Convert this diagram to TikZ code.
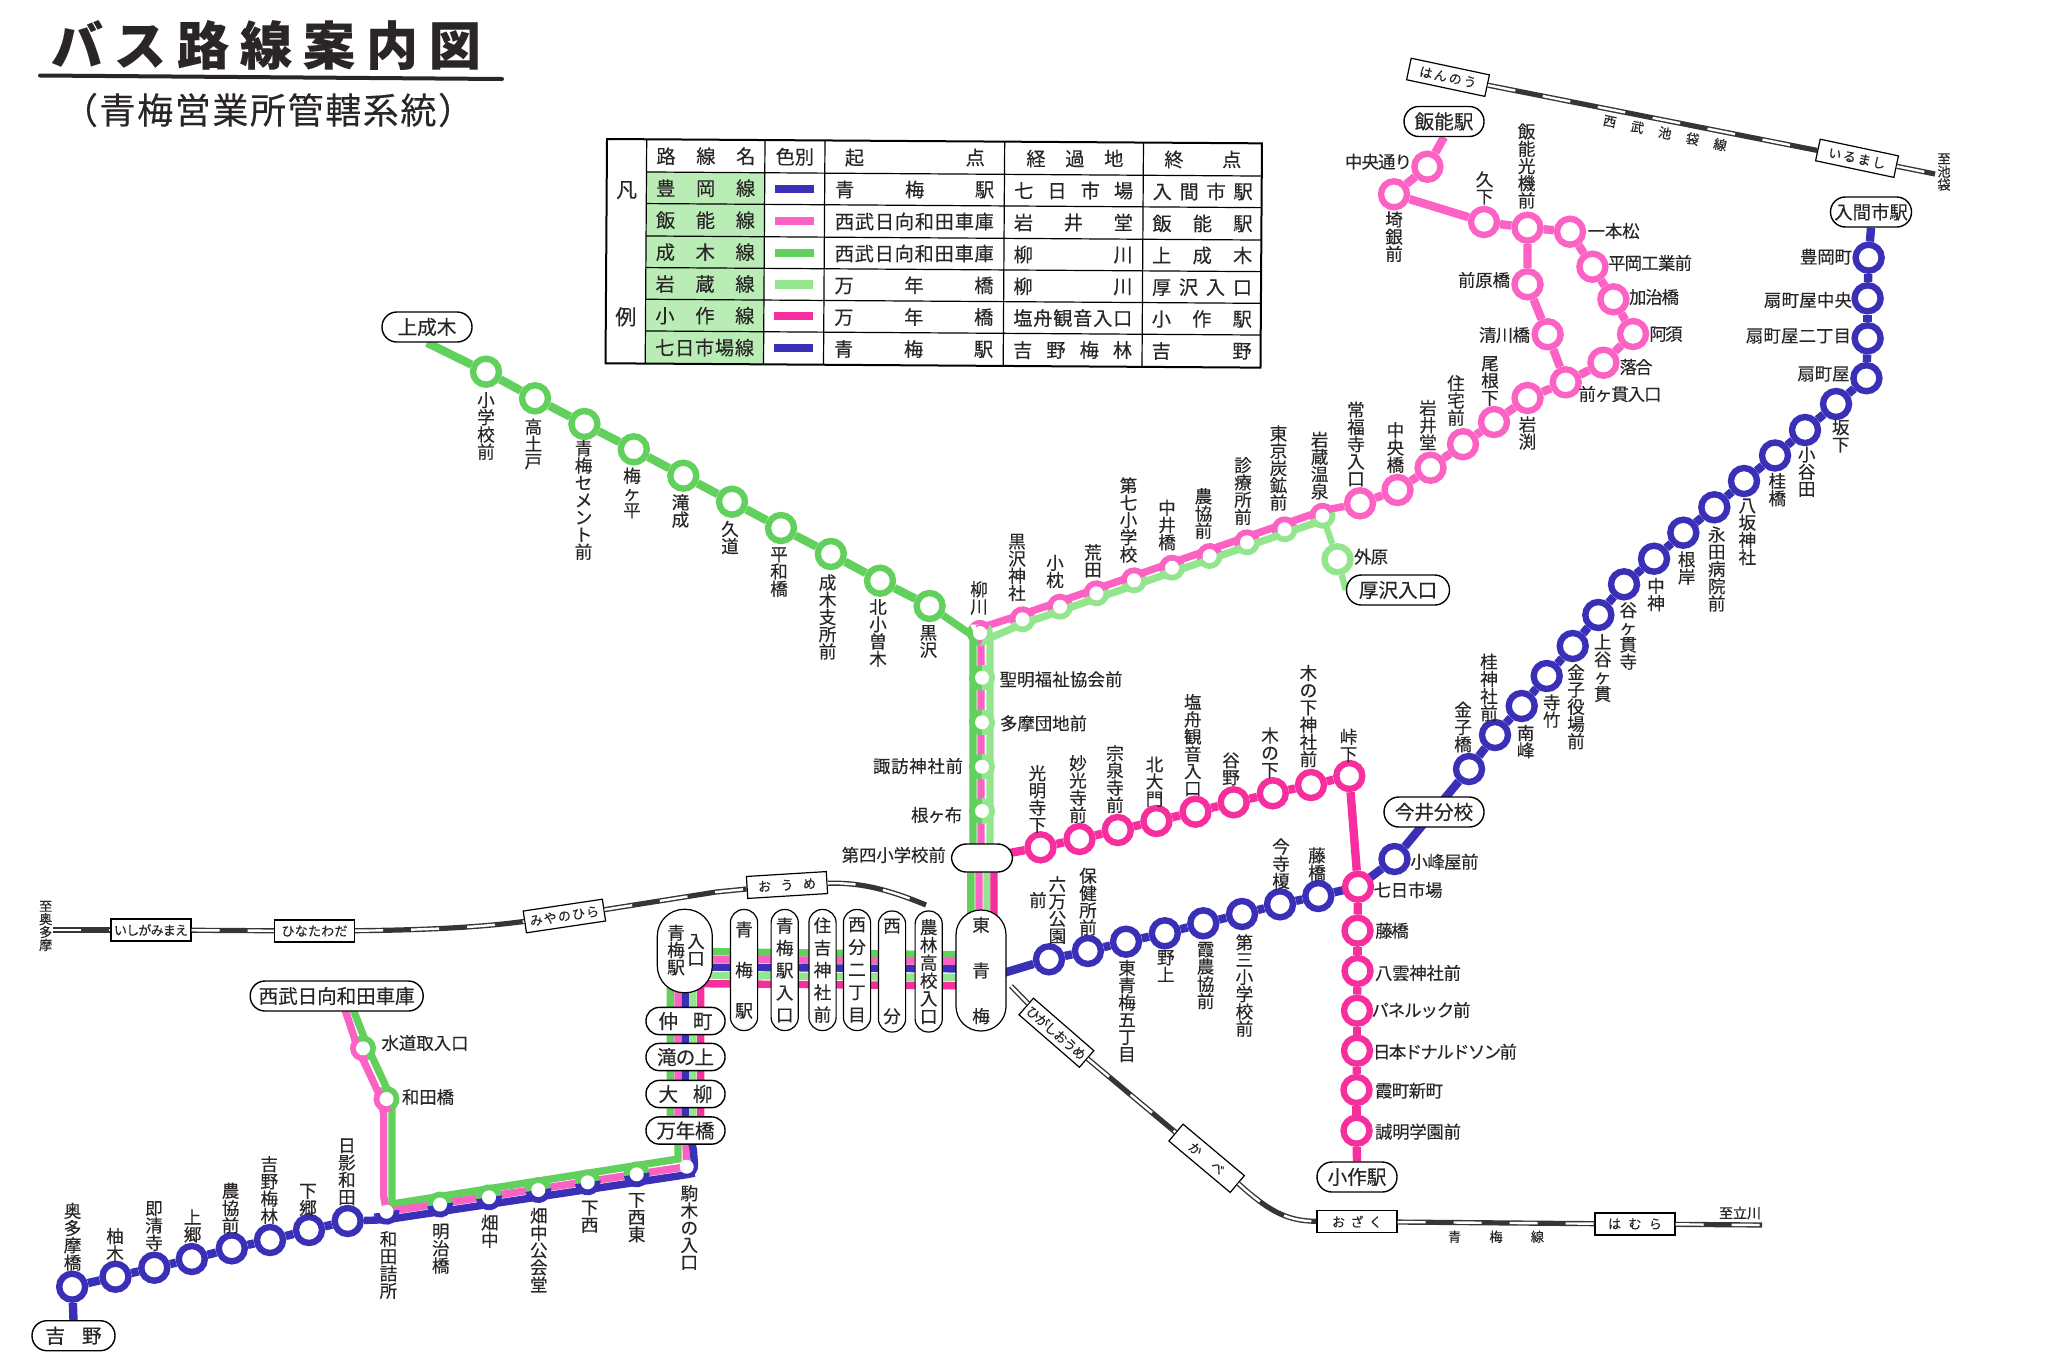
\documentclass[tikz,border=0pt]{standalone}
\usepackage{fontspec}
\setmainfont{Noto Sans CJK JP}[FakeBold=0.25]
\usetikzlibrary{backgrounds}

\definecolor{lineblue}{HTML}{3A30B8}
\definecolor{linehanno}{HTML}{FB62C4}
\definecolor{linenari}{HTML}{62D05C}
\definecolor{lineiwa}{HTML}{94E68E}
\definecolor{linekosa}{HTML}{F62E9E}
\definecolor{legfill}{HTML}{BAEDB6}
\definecolor{raildark}{HTML}{383436}
\definecolor{inkdark}{HTML}{2A2628}

% vertical and spread text
\def\vtloop#1#2\vtend{\hbox to 1em{\hss#1\hss}\ifx\relax#2\relax\else\vtloop#2\vtend\fi}
\newcommand\vt[1]{\vbox{\baselineskip=0.98em\lineskiplimit=-\maxdimen\expandafter\vtloop#1\vtend}}
\def\vsloop#1#2\vsend{\hbox to 1em{\hss#1\hss}\ifx\relax#2\relax\else\vfil\vsloop#2\vsend\fi}
\newcommand\vsp[2]{\vbox to #1{\lineskiplimit=-\maxdimen\baselineskip=0pt\expandafter\vsloop#2\vsend}}
\def\hsloop#1#2\hsend{#1\ifx\relax#2\relax\else\hskip 0pt plus 1fil minus 1pt\hsloop#2\hsend\fi}
\newcommand\hsp[2]{\makebox[#1][s]{\expandafter\hsloop#2\hsend}}
\newcommand\halfdisc[4]{\fill[#4] (#1.center) ++(#2:13) arc (#2:#2+#3:13) -- cycle;}

\tikzset{
  stopring/.style={circle,draw=#1,fill=white,line width=3.2pt,minimum size=13pt,inner sep=0pt},
  stopdot/.style={circle,fill=white,minimum size=7pt,inner sep=0pt},
  lnk/.style={draw=#1,line width=4.2pt},
  band/.style={draw=#1,line width=3.7pt},
  termbox/.style={draw,fill=white,line width=.7pt,rounded corners=7.4pt,inner sep=0pt,minimum height=15pt,font=\fontsize{9.8}{10}\selectfont},
  colbox/.style={draw,fill=white,line width=.6pt,inner sep=0pt,rounded corners=6.6pt,minimum width=13.6pt,minimum height=60.5pt,font=\fontsize{8.8}{9}\selectfont},
  railbox/.style={draw,fill=white,line width=.6pt,inner sep=0pt,minimum width=40pt,minimum height=11pt,font=\fontsize{6.5}{7}\selectfont},
  rail/.style={draw=white,line width=1.2pt,dash pattern=on 14pt off 14pt,preaction={draw=raildark,line width=2.6pt,solid}},
  vlab/.style={inner sep=0pt,font=\fontsize{8.8}{9}\selectfont},
  hlab/.style={inner sep=0pt,font=\fontsize{8.7}{9}\selectfont},
  smalllab/.style={inner sep=0pt,font=\fontsize{6.6}{7}\selectfont},
  tabtext/.style={inner sep=0pt,font=\fontsize{9.6}{10}\selectfont},
}

\begin{document}
\begin{tikzpicture}[x=0.5pt,y=-0.5pt,text=inkdark]
  \useasboundingbox (0,0) rectangle (2048,1366);

  % title
  \node[inner sep=0pt,font=\fontsize{26}{28}\selectfont\bfseries] (title) at (266,45) {\hsp{215pt}{バス路線案内図}};
  \draw[inkdark,line width=2pt,line cap=round] (40,75.5) -- (502,79);
  \node[inner sep=0pt,font=\fontsize{18}{20}\selectfont] (subtitle) at (268,110) {\hsp{206pt}{（青梅営業所管轄系統）}};

  % legend
  \begin{scope}[rotate around={-0.38:(607,139)}]
    \fill[legfill] (646.7,171.7) rectangle (765,363.3);
    \draw[line width=1pt] (607,139) rectangle (1262,363.3);
    \foreach \y in {171.7,203.3,235.7,267.3,299,330.7} \draw[line width=.6pt] (646.7,\y) -- (1262,\y);
    \foreach \x in {646.7,765,825,1004.7,1143.5} \draw[line width=.6pt] (\x,139) -- (\x,363.3);
    \node[tabtext,font=\fontsize{10.5}{11}\selectfont] (legA) at (627,190) {凡};
    \node[tabtext,font=\fontsize{10.5}{11}\selectfont] (legB) at (627,316.7) {例};
    \node[tabtext] (headA) at (706,155.5) {\hsp{49.5pt}{路線名}};
    \node[tabtext] (headB) at (795,155.5) {色別};
    \node[tabtext] (headC) at (915,155.5) {\hsp{70pt}{起点}};
    \node[tabtext] (headD) at (1075,155.5) {\hsp{48.5pt}{経過地}};
    \node[tabtext] (headE) at (1203,155.5) {\hsp{38.5pt}{終点}};
    \foreach \y/\c/\a/\b/\d/\e [count=\i] in {
      187.5/lineblue/豊岡線/青梅駅/七日市場/入間市駅,
      219.5/linehanno/飯能線/西武日向和田車庫/岩井堂/飯能駅,
      251.5/linenari/成木線/西武日向和田車庫/柳川/上成木,
      283.3/lineiwa/岩蔵線/万年橋/柳川/厚沢入口,
      315/linekosa/小作線/万年橋/塩舟観音入口/小作駅,
      347/lineblue/七日市場線/青梅駅/吉野梅林/吉野}{
      \node[tabtext] (legn\i) at (706,\y) {\hsp{49.5pt}{\a}};
      \node[fill=\c,inner sep=0pt,minimum width=19.4pt,minimum height=4.2pt] (legs\i) at (795,\y) {};
      \node[tabtext] (lega\i) at (915,\y) {\hsp{79.5pt}{\b}};
      \node[tabtext] (legb\i) at (1074,\y) {\hsp{59.5pt}{\d}};
      \node[tabtext] (legc\i) at (1203,\y) {\hsp{50pt}{\e}};
    }
  \end{scope}

  % terminals and station boxes
  \node[termbox,minimum width=45pt] (kaminari) at (427,327) {上成木};
  \node[termbox,minimum width=40pt] (hannost) at (1444,121.5) {飯能駅};
  \node[termbox,minimum width=40.5pt,font=\fontsize{9.2}{10}\selectfont] (irumast) at (1871,212) {入間市駅};
  \node[termbox,minimum width=50pt] (imai) at (1434,812) {今井分校};
  \node[termbox,minimum width=51.5pt] (atsu) at (1398,590) {厚沢入口};
  \node[termbox,minimum width=30.5pt,minimum height=14pt] (daiyon) at (982,858) {};
  \node[termbox,minimum width=40pt] (ozakust) at (1357,1177) {小作駅};
  \node[termbox,minimum width=41.5pt] (yoshino) at (73.5,1335.7) {\hsp{28pt}{吉野}};
  \node[termbox,minimum width=86.5pt] (kuruma) at (336.7,996) {\hsp{78pt}{西武日向和田車庫}};
  \node[termbox,minimum width=39.5pt,minimum height=13.6pt,rounded corners=6.6pt] (nakacho) at (685.5,1021) {\hsp{27pt}{仲町}};
  \node[termbox,minimum width=39.5pt,minimum height=13.6pt,rounded corners=6.6pt] (takinoue) at (685.5,1057) {\hsp{28.5pt}{滝の上}};
  \node[termbox,minimum width=39.5pt,minimum height=13.6pt,rounded corners=6.6pt] (oyanagi) at (685.5,1094) {\hsp{27pt}{大柳}};
  \node[termbox,minimum width=39.5pt,minimum height=13.6pt,rounded corners=6.6pt] (mannen) at (685.5,1130.5) {\hsp{29pt}{万年橋}};
  \node[colbox,minimum width=27.5pt,minimum height=41.7pt,rounded corners=13.4pt] (omeiri) at (684.8,951) {};
  \node[vlab] (omeiriA) at (676,950) {\vt{青梅駅}};
  \node[vlab] (omeiriB) at (696,950) {\vt{入口}};
  \node[colbox] (omest) at (744,970) {\vsp{48pt}{青梅駅}};
  \node[colbox] (omeekiiri) at (784.7,970) {\vsp{52pt}{青梅駅入口}};
  \node[colbox] (sumiyoshi) at (822.5,970) {\vsp{52pt}{住吉神社前}};
  \node[colbox] (nishiwake) at (857,970) {\vsp{52pt}{西分二丁目}};
  \node[colbox] (nishibun) at (892,971.5) {\vsp{52pt}{西分}};
  \node[colbox] (norin) at (928.7,971.5) {\vsp{52pt}{農林高校入口}};
  \node[colbox,minimum width=25pt,rounded corners=12.4pt] (higashiome) at (981,970.5) {\vsp{53pt}{東青梅}};

  % stops
  \foreach \x/\y [count=\i] in {486/371.7,535/398.3,584.4/424,633.8/449.3,683.3/475.7,732/501.7,781/528,830.8/554,880/580.7,929.6/606}
    \node[stopring=linenari] (nari\i) at (\x,\y) {};
  \foreach \x/\y [count=\i] in {1022.5/619.3,1060/606.7,1096.4/593.3,1134/580.3,1172/567.7,1209.6/556,1247/542.3,1284.6/529.3,1322.5/515.7}
    \node[stopdot] (iwa\i) at (\x,\y) {};
  \foreach \x/\y [count=\i] in {1360/503.3,1397.5/490,1430.5/467.7,1463/444.2,1494/422,1527.5/398,1565.7/382.3,1603.4/362.7,1633/334,1613.4/299.3,1592.4/266.7,1570/231.7,1527.5/227.7,1484/222,1394/194.3,1427.4/166.7}
    \node[stopring=linehanno] (han\i) at (\x,\y) {};
  \node[stopring=linehanno] (maehara) at (1527.5,284.3) {};
  \node[stopring=linehanno] (kiyokawa) at (1547.6,334.3) {};
  \node[stopring=lineiwa] (sotobara) at (1337.5,559.3) {};
  \foreach \x/\y [count=\i] in {1868.6/257.7,1867.6/298.3,1867.6/338.3,1866.4/378.2,1836/404,1805/430,1775/455.5,1744/481,1714.3/507.3,1683.3/532.7,1654/558.7,1624/584.3,1598.3/615,1572.7/646,1546.7/676,1521.7/706,1495/735,1469/769,1394.5/859}
    \node[stopring=lineblue] (iru\i) at (\x,\y) {};
  \foreach \x/\y [count=\i] in {1049/959.3,1087.9/951,1126/941.7,1164.8/933.3,1203.3/923.3,1242/914,1280/904.3,1318.3/896}
    \node[stopring=lineblue] (nan\i) at (\x,\y) {};
  \foreach \x/\y [count=\i] in {1040.5/847.3,1079.5/839,1117.8/830,1156.4/821,1195.5/811.7,1233.7/802.3,1272.8/793.3,1311/785,1349.3/776}
    \node[stopring=linekosa] (kom\i) at (\x,\y) {};
  \node[stopring=linekosa] (nanoka) at (1358,886.7) {};
  \foreach \x/\y [count=\i] in {1357.5/930.7,1357.5/971,1357/1010.7,1357/1050.7,1356.5/1090,1356.5/1130.7}
    \node[stopring=linekosa] (kot\i) at (\x,\y) {};
  \foreach \x/\y [count=\i] in {72.2/1286.7,115.5/1276.7,154.3/1267.7,191.8/1259,231.8/1248.3,270/1240,309/1230,347.7/1221}
    \node[stopring=lineblue] (yos\i) at (\x,\y) {};
  \foreach \x/\y [count=\i] in {386.5/1211.7,440/1204.5,489/1197.3,538.3/1190,587.7/1182.3,636.7/1174.3}
    \node[stopdot] (wad\i) at (\x,\y) {};
  \node[stopdot] (komaki) at (686.7,1166.7) {};
  \node[stopdot] (suido) at (363,1048.3) {};
  \node[stopdot] (wadabashi) at (386.5,1099) {};
  \node[stopdot] (yanagawa) at (980,633) {};
  \foreach \y [count=\i] in {677.7,722.3,766.7,811}
    \node[stopdot] (tr\i) at (982,\y) {};

  \coordinate (kurumaB) at (347.5,1005);
  \coordinate (higashiB) at (1000,974);

  % lines go under all the nodes
  \begin{scope}[on background layer]
    \draw[lnk=linenari] (kaminari.south) -- (nari1);
    \foreach \i [evaluate=\i as \j using int(\i+1)] in {1,...,9} \draw[lnk=linenari] (nari\i) -- (nari\j);
    \foreach \i [evaluate=\i as \j using int(\i+1)] in {1,...,15} \draw[lnk=linehanno] (han\i) -- (han\j);
    \draw[lnk=linehanno] (han16) -- (hannost.south);
    \draw[lnk=linehanno] (han13) -- (maehara) -- (kiyokawa) -- (han7);
    \draw[lnk=lineblue] (irumast.south) -- (iru1);
    \foreach \i [evaluate=\i as \j using int(\i+1)] in {1,...,18} \draw[lnk=lineblue] (iru\i) -- (iru\j);
    \draw[lnk=lineblue] (iru19) -- (nanoka.center);
    \draw[lnk=lineblue] (higashiB) -- (nan1);
    \foreach \i [evaluate=\i as \j using int(\i+1)] in {1,...,7} \draw[lnk=lineblue] (nan\i) -- (nan\j);
    \draw[lnk=lineblue] (nan8) -- (nanoka.center);
    \draw[lnk=linekosa] (daiyon.center) -- (kom1);
    \foreach \i [evaluate=\i as \j using int(\i+1)] in {1,...,8} \draw[lnk=linekosa] (kom\i) -- (kom\j);
    \draw[lnk=linekosa] (kom9) -- (nanoka) -- (kot1);
    \foreach \i [evaluate=\i as \j using int(\i+1)] in {1,...,5} \draw[lnk=linekosa] (kot\i) -- (kot\j);
    \draw[lnk=linekosa] (kot6) -- (ozakust.north);
    \draw[lnk=lineblue] (yoshino.north) -- (yos1);
    \foreach \i [evaluate=\i as \j using int(\i+1)] in {1,...,7} \draw[lnk=lineblue] (yos\i) -- (yos\j);

    % shared stretches
    \draw[band=linenari] ([xshift=2pt]kurumaB) -- ([xshift=2.6pt]suido.center) -- ([xshift=2.6pt]wadabashi.center) -- (392,1115) -- (392,1204) -- (678,1159) -- (678,1135) -- (670.3,1130) -- (670.3,951) -- (970.8,955) -- (970.8,858) -- (973,858) -- (973,636) -- (nari10);
    \draw[band=linehanno] ([xshift=-2pt]kurumaB) -- ([xshift=-2.6pt]suido.center) -- ([xshift=-2.6pt]wadabashi.center) -- (383.7,1115) -- (383.7,1196) -- (wad1.center) -- (komaki.center) -- (686,1144) -- (678,1130) -- (678,959) -- (979,961.5) -- (979,858) -- (981,858) -- (981,640) -- (980,628) -- ([yshift=2.5pt]iwa1.center) -- ([yshift=2.5pt]iwa9.center) -- (han1);
    \draw[band=lineiwa] (693,1130) -- (693,975.3) -- (987,977.7) -- (987,858) -- (990,858) -- (990,638) -- ([yshift=-2.3pt]iwa1.center) -- ([yshift=-2.3pt]iwa9.center);
    \draw[band=lineiwa,line width=3.2pt] (iwa9.center) -- (sotobara) -- (atsu.west);
    \draw[band=linekosa] (700.7,1130) -- (700.7,983.7) -- (994,986) -- (994,858) -- (daiyon.center);
    \draw[band=lineblue,rounded corners=4pt] (yos8) -- ([yshift=-4pt]wad1.center) -- ([yshift=-4pt]komaki.center) -- (695,1173) -- (693,1144) -- (685.3,1130) -- (685.3,967) -- (981,969);

    % bumps round the white stops
    \foreach \i in {1,...,9} {\halfdisc{iwa\i}{161}{180}{linehanno}\halfdisc{iwa\i}{-19}{180}{lineiwa}}
    \foreach \i in {1,...,4} {\halfdisc{tr\i}{90}{180}{linenari}\halfdisc{tr\i}{-90}{180}{lineiwa}}
    \foreach \i in {2,...,6} {\halfdisc{wad\i}{171.5}{180}{linenari}\halfdisc{wad\i}{-8.5}{180}{lineblue}}
    \halfdisc{wad1}{-8.5}{180}{lineblue}
    \halfdisc{suido}{64}{180}{linehanno}\halfdisc{suido}{244}{180}{linenari}
    \halfdisc{wadabashi}{64}{180}{linehanno}\halfdisc{wadabashi}{244}{180}{linenari}
    \halfdisc{yanagawa}{90}{130}{linenari}\halfdisc{yanagawa}{220}{100}{linehanno}\halfdisc{yanagawa}{320}{130}{lineiwa}
  \end{scope}

  % railway
  \node[railbox,rotate=-12] (hannoR) at (1448,77.3) {\hsp{29pt}{はんのう}};
  \node[railbox,rotate=-12] (irumashi) at (1857,158.3) {\hsp{29pt}{いるまし}};
  \coordinate (ikebukuro) at (1935,174);
  \draw[rail] (hannoR) -- (irumashi);
  \draw[rail] (irumashi) -- (ikebukuro);
  \node[smalllab,rotate=-12] (seibu) at (1665,133) {\hsp{63pt}{西武池袋線}};
  \node[smalllab] (toIke) at (1944,172) {\vt{至池袋}};

  \node[railbox] (ishigami) at (151,930) {\hsp{37pt}{いしがみまえ}};
  \node[railbox] (hinata) at (314.5,931) {\hsp{33pt}{ひなたわだ}};
  \node[railbox,rotate=8.5] (miyanohira) at (564.4,916) {\hsp{35pt}{みやのひら}};
  \node[railbox,rotate=3.5] (omeR) at (787,885) {\hsp{29pt}{おうめ}};
  \coordinate (okutama) at (53,930);
  \coordinate (omeEnd) at (926,905);
  \draw[rail] (okutama) -- (ishigami);
  \draw[rail] (ishigami) -- (hinata);
  \draw[rail] (hinata) .. controls (440,930) and (490,926) .. (miyanohira);
  \draw[rail] (miyanohira) -- (716,892) -- (omeR);
  \draw[rail] (omeR) .. controls (860,882) and (890,890) .. (omeEnd);
  \node[smalllab] (toOku) at (45.7,926) {\vt{至奥多摩}};

  \node[railbox,rotate=-41] (higashiR) at (1056.4,1032.7) {\hsp{37pt}{ひがしおうめ}};
  \node[railbox,rotate=-40] (kabe) at (1206.6,1158.3) {\hsp{21pt}{かべ}};
  \node[railbox] (ozaku) at (1357,1221.7) {\hsp{25pt}{おざく}};
  \node[railbox] (hamura) at (1635,1224) {\hsp{27pt}{はむら}};
  \coordinate (higashiEnd) at (1011,986);
  \coordinate (tachikawa) at (1762,1225);
  \draw[rail] (higashiEnd) -- (higashiR);
  \draw[rail] (higashiR) -- (kabe);
  \draw[rail] (kabe) -- (1240,1185) .. controls (1272,1214) and (1290,1221) .. (ozaku);
  \draw[rail] (ozaku) -- (hamura);
  \draw[rail] (hamura) -- (tachikawa);
  \node[smalllab,font=\fontsize{7}{8}\selectfont] (toTachi) at (1740,1213) {至立川};
  \node[smalllab] (omeLine) at (1496,1236.7) {\hsp{48pt}{青梅線}};

  % vertical labels
  \foreach \x/\y/\s [count=\i] in {
    486/426/小学校前,533.4/444/高土戸,583.6/500/青梅セメント前,632/493/梅ヶ平,680.5/511/滝成,
    730/537.5/久道,779/572/平和橋,827.6/617/成木支所前,878/633/北小曽木,928.4/641.5/黒沢,979/598/柳川,
    1017/567.5/黒沢神社,1055/571.5/小枕,1093/561/荒田,1128.5/520/第七小学校,1167/525/中井橋,
    1203.5/513.5/農協前,1243/491/診療所前,1278.5/468/東京炭鉱前,1319.6/465.5/岩蔵温泉,1356/444/常福寺入口,
    1395.4/447.5/中央橋,1428/425/岩井堂,1456/400.5/住宅前,1490/381/尾根下,1527.5/433/岩渕,
    1394/236.7/埼銀前,1484.6/188/久下,1526.6/166/飯能光機前,
    1840.7/436/坂下,1806.7/471.7/小谷田,1777.3/489.7/桂橋,1747.3/532/八坂神社,1716.7/569/永田病院前,
    1686.7/568/根岸,1656/594.5/中神,1628.3/636/谷ヶ貫寺,1602.7/668/上谷ヶ貫,1576/706.7/金子役場前,
    1551.7/711/寺竹,1525.7/741.7/南峰,1489/687.5/桂神社前,1463/727/金子橋,
    1037.4/799/光明寺下,1078/789/妙光寺前,1115/779/宗泉寺前,1154.5/781.7/北大門,1192.8/745/塩舟観音入口,
    1231/769/谷野,1270/752.7/木の下,1308.4/716/木の下神社前,1348.6/745.4/峠下,
    1057.4/910/六万公園,1038/900/前,1088/901.7/保健所前,1127/1011/東青梅五丁目,1165.8/966/野上,
    1205.6/975.5/霞農協前,1244.4/985.5/第三小学校前,1281/863.7/今寺榎,1317/864/藤橋,
    72.6/1236.7/奥多摩橋,115/1244.7/柚木,154/1226/即清寺,192.6/1226/上郷,230.6/1208/農協前,
    269.3/1190/吉野梅林,308/1200/下郷,346.9/1171.7/日影和田,388.5/1265/和田詰所,440.7/1248.7/明治橋,
    489.8/1231.3/畑中,538.8/1250/畑中公会堂,589.7/1216.7/下西,636.7/1217.7/下西東,689.3/1227.5/駒木の入口}
    \node[vlab] (vl\i) at (\x,\y) {\vt{\s}};

  % horizontal labels
  \foreach \x/\y/\w/\s [count=\i] in {
    1378.5/161.7/33.5/中央通り,1613.6/231/26/一本松,1650/263/42/平岡工業前,1654/297/25/加治橋,
    1666/334/16.5/阿須,1636/367/16.5/落合,1620/394/41.5/前ヶ貫入口,1484/280/26/前原橋,1504.5/335/25.5/清川橋,
    1826/256.7/26/豊岡町,1808/300/44/扇町屋中央,1798.5/336/52.5/扇町屋二丁目,1823.5/374/26/扇町屋,
    1371/556.7/17/外原,1444.4/861.7/34/小峰屋前,1408/890/34.5/七日市場,1392/930.7/16.7/藤橋,
    1418/973/43/八雲神社前,1421/1010/49.5/パネルック前,1445/1051.7/72/日本ドナルドソン前,
    1409/1090.7/34/霞町新町,1418/1131.7/43/誠明学園前,1061/679.3/61.5/聖明福祉協会前,
    1043.5/723.3/43.5/多摩団地前,918/766/45/諏訪神社前,936.6/815/25.5/根ヶ布,893.7/855/52/第四小学校前,
    425/1043/43.5/水道取入口,428/1097/26/和田橋}
    \node[hlab] (hl\i) at (\x,\y) {\hsp{\w pt}{\s}};
\end{tikzpicture}
\end{document}
